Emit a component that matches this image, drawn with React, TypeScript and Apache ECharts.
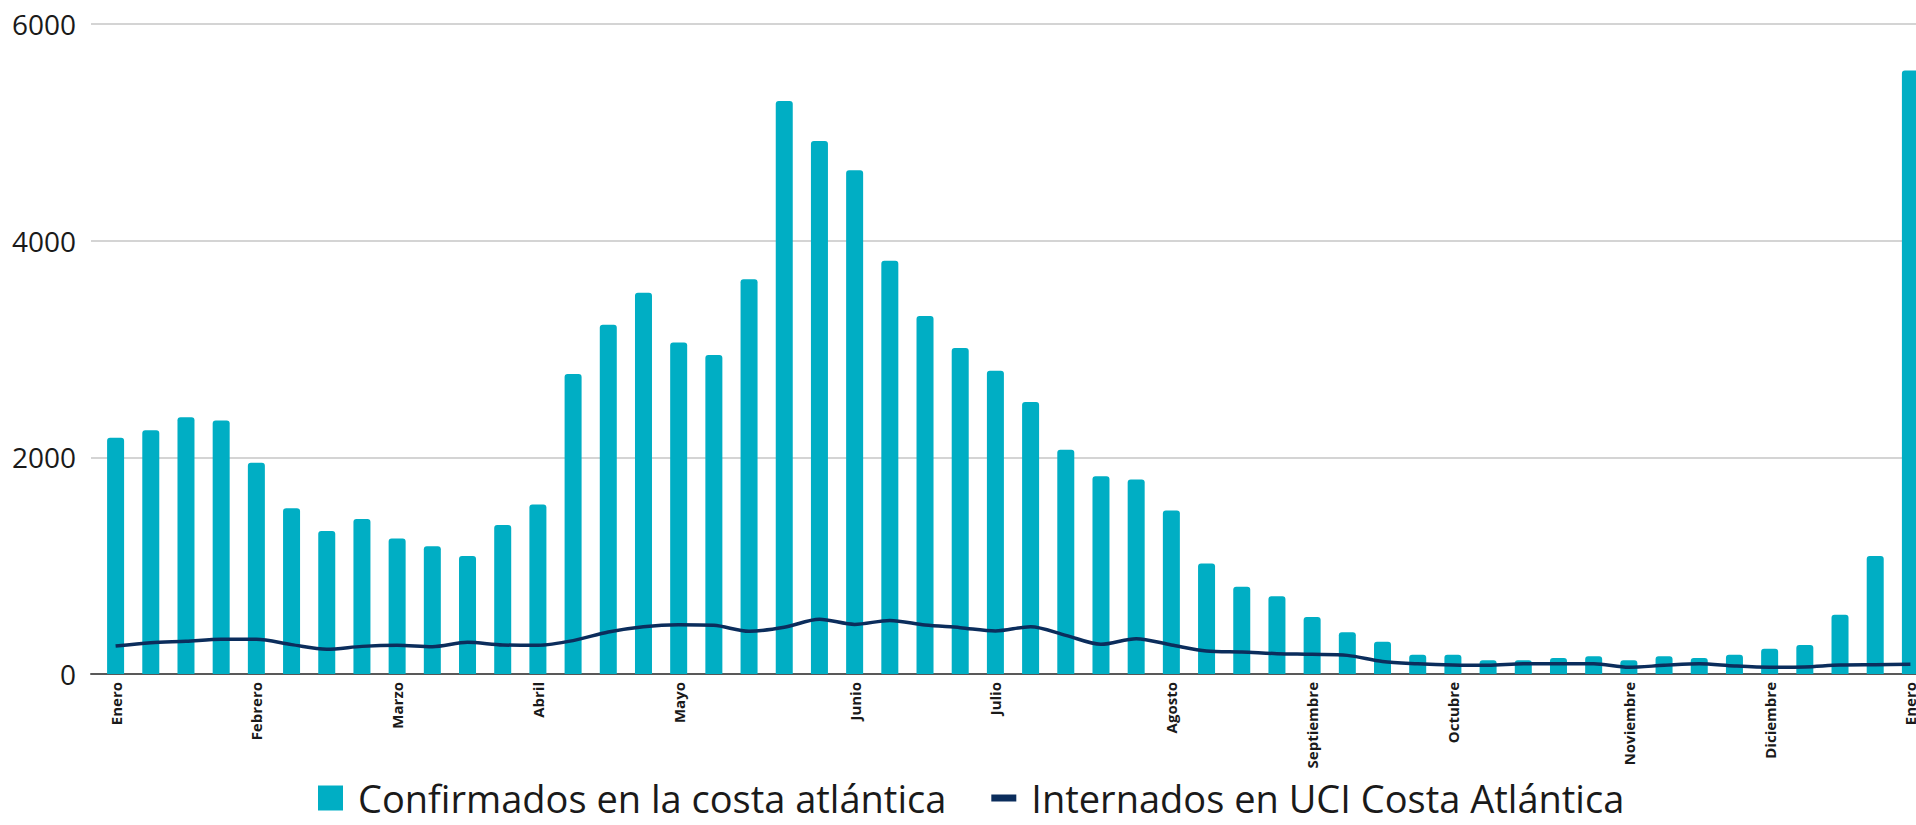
import React, { useEffect, useRef } from "react";
import * as echarts from "echarts";

const categories = [
  "Enero", "", "", "", "Febrero", "", "", "", "Marzo", "", "", "", "Abril",
  "", "", "", "Mayo", "", "", "", "", "Junio", "", "", "", "Julio",
  "", "", "", "", "Agosto", "", "", "", "Septiembre", "", "", "", "Octubre",
  "", "", "", "", "Noviembre", "", "", "", "Diciembre", "", "", "", "Enero",
];

const confirmados = [
  2180, 2250, 2370, 2340, 1950, 1530, 1320, 1430, 1250, 1180, 1090, 1375, 1565,
  2770, 3225, 3520, 3060, 2945, 3645, 5290, 4920, 4650, 3815, 3305, 3010, 2800,
  2510, 2070, 1825, 1795, 1510, 1020, 805, 718, 527, 385, 297, 178, 178,
  126, 126, 148, 163, 126, 163, 148, 178, 234, 268, 548, 1090, 5570,
];

const uci = [
  258, 289, 302, 320, 320, 271, 228, 255, 265, 252, 292, 268, 265,
  308, 388, 437, 455, 449, 394, 431, 505, 458, 495, 452, 428, 397,
  437, 357, 274, 326, 268, 212, 203, 188, 182, 172, 115, 95, 83,
  80, 95, 95, 95, 62, 80, 95, 74, 62, 65, 83, 86, 89,
];

const seriesNames = ["Confirmados en la costa atlántica", "Internados en UCI Costa Atlántica"];

const Y_MIN = 0;
const Y_MAX = 6000;
const Y_STEP = 2000;

const BAR_COLOR = "#00AEC4";
const LINE_COLOR = "#0B2D5C";

export default function App() {
  const ref = useRef<HTMLDivElement>(null);
  useEffect(() => {
    const chart = echarts.init(ref.current as HTMLDivElement, null, { renderer: "svg" });
    chart.setOption({
      animation: false,
      backgroundColor: "#ffffff",
      grid: [
        { left: 98, right: 0, top: 24, bottom: 151, containLabel: false },
        { left: 91, right: 0, top: 24, bottom: 151, containLabel: false },
      ],
      legend: {
        left: 313,
        top: 774,
        itemWidth: 25,
        itemHeight: 25,
        itemGap: 45,
        data: [
          { name: seriesNames[0], icon: "rect" },
          { name: seriesNames[1], icon: "path://M0,0 M25,25 M0,9 L25,9 L25,16 L0,16 Z" },
        ],
        textStyle: {
          fontFamily: "Open Sans",
          fontSize: 38,
          color: "#1a1a1a",
          padding: [0, 0, 0, 10],
        },
      },
      xAxis: [
        {
          type: "category",
          gridIndex: 0,
          data: categories,
          boundaryGap: true,
          axisLine: { show: false },
          axisTick: { show: false },
          axisLabel: {
            interval: 0,
            rotate: 90,
            margin: 8,
            fontFamily: "Open Sans",
            fontWeight: "bold",
            fontSize: 15,
            color: "#1a1a1a",
          },
          splitLine: { show: false },
        },
        {
          type: "value",
          gridIndex: 1,
          min: 0,
          max: 1,
          axisLine: { show: true, onZero: false, lineStyle: { color: "#595959", width: 2 } },
          axisTick: { show: false },
          axisLabel: { show: false },
          splitLine: { show: false },
        },
      ],
      yAxis: [
        {
          type: "value",
          gridIndex: 0,
          min: Y_MIN,
          max: Y_MAX,
          interval: Y_STEP,
          axisLine: { show: false },
          axisTick: { show: false },
          axisLabel: { show: false },
          splitLine: { show: false },
        },
        {
          type: "value",
          gridIndex: 1,
          min: Y_MIN,
          max: Y_MAX,
          interval: Y_STEP,
          axisLine: { show: false },
          axisTick: { show: false },
          axisLabel: {
            fontFamily: "Open Sans",
            fontSize: 28,
            color: "#1a1a1a",
            margin: 15,
            formatter: (v: number) => String(v),
          },
          splitLine: { show: true, lineStyle: { color: "#d4d4d4", width: 2 } },
        },
      ],
      series: [
        {
          name: seriesNames[0],
          type: "bar",
          xAxisIndex: 0,
          yAxisIndex: 0,
          data: confirmados,
          barWidth: 17,
          itemStyle: { color: BAR_COLOR, borderRadius: [3, 3, 0, 0] },
          z: 2,
        },
        {
          name: seriesNames[1],
          type: "line",
          xAxisIndex: 0,
          yAxisIndex: 0,
          data: uci,
          smooth: 0.3,
          symbol: "none",
          lineStyle: { color: LINE_COLOR, width: 3.5 },
          itemStyle: { color: LINE_COLOR },
          z: 3,
        },
      ],
    });
    return () => chart.dispose();
  }, []);
  return (
    <div
      style={{ position: "absolute", left: 0, top: 0, width: 1916, height: 825, overflow: "hidden", background: "#fff" }}
    >
      <div ref={ref} style={{ width: 1928, height: 825 }} />
    </div>
  );
}
